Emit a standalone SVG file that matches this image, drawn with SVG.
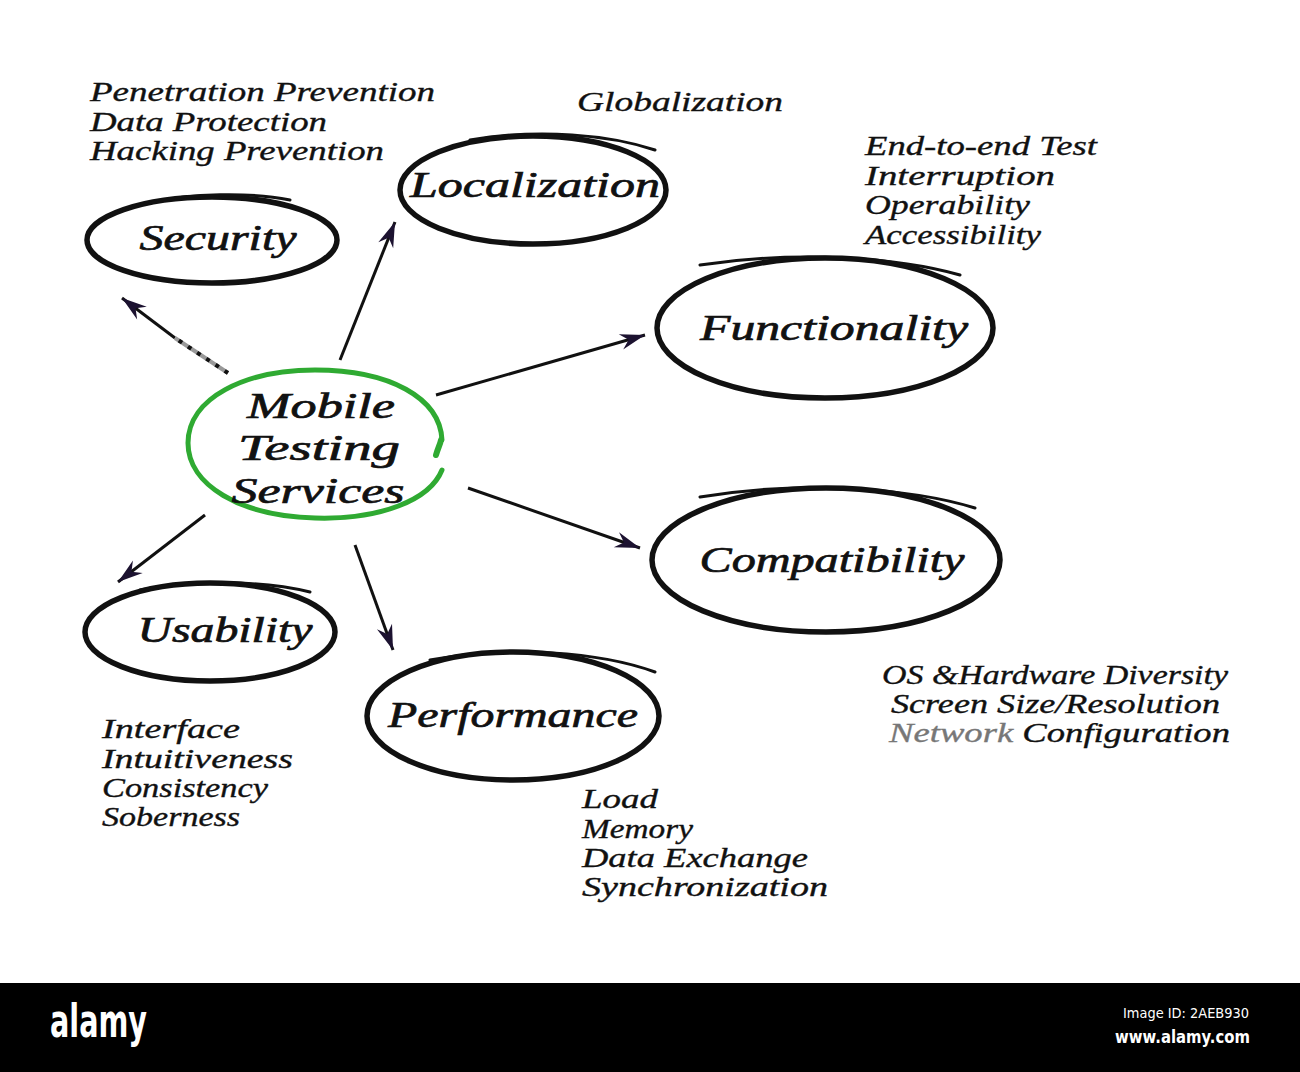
<svg xmlns="http://www.w3.org/2000/svg" width="1300" height="1072" viewBox="0 0 1300 1072">
<style>
.ring{fill:none;stroke:#111;stroke-width:5.5;stroke-linecap:round}
.tail{fill:none;stroke:#111;stroke-width:3;stroke-linecap:round}
.node{font-family:"Liberation Serif","DejaVu Serif",serif;font-style:italic;font-size:36px;fill:#111;stroke:#111;stroke-width:0.7}
.note{font-family:"Liberation Serif","DejaVu Serif",serif;font-style:italic;font-size:27px;fill:#111;stroke:#111;stroke-width:0.35}
.conn{fill:none;stroke:#111;stroke-width:3;marker-end:url(#ah)}
.wm{font-family:"DejaVu Sans","Liberation Sans",sans-serif;fill:#fff}
</style>
<defs>
<marker id="ah" markerUnits="userSpaceOnUse" markerWidth="30" markerHeight="20" viewBox="-26 -10 28 20" refX="0" refY="0" orient="auto">
<path d="M0,0 L-25,-8 L-17,0 L-25,8 Z" fill="#1c1230"/>
</marker>
</defs>
<rect width="1300" height="1072" fill="#fff"/>

<g id="connectors">
<path class="conn" d="M175,338 L122,298"/>
<line x1="228" y1="373" x2="175" y2="338" stroke="#999" stroke-width="4"/>
<line x1="228" y1="373" x2="175" y2="338" stroke="#111" stroke-width="4" stroke-dasharray="4 7"/>
<path class="conn" d="M340,360 L395,222"/>
<path class="conn" d="M436,395 L645,335"/>
<path class="conn" d="M468,488 L640,548"/>
<path class="conn" d="M355,545 L393,650"/>
<path class="conn" d="M205,515 L118,582"/>
</g>

<g id="node-center">
<path d="M442,470 C430,500 380,520 315,518 C240,516 188,485 188,443 C188,398 245,370 315,370 C390,370 440,398 442,440" fill="none" stroke="#2faa32" stroke-width="5" stroke-linecap="round"/>
<path d="M436,455 C438,448 440,445 441,440" fill="none" stroke="#2faa32" stroke-width="6" stroke-linecap="round"/>
<text class="node" x="321" y="418" text-anchor="middle" textLength="148" lengthAdjust="spacingAndGlyphs">Mobile</text>
<text class="node" x="319" y="460" text-anchor="middle" textLength="162" lengthAdjust="spacingAndGlyphs">Testing</text>
<text class="node" x="318" y="503" text-anchor="middle" textLength="173" lengthAdjust="spacingAndGlyphs">Services</text>
</g>

<g id="node-security">
<ellipse class="ring" cx="212" cy="240" rx="125" ry="43"/>
<path class="tail" d="M150,203 C190,193 250,192 290,200"/>
<text class="node" x="218" y="250" text-anchor="middle" textLength="157" lengthAdjust="spacingAndGlyphs">Security</text>
</g>

<g id="node-localization">
<ellipse class="ring" cx="533" cy="190" rx="133" ry="54"/>
<path class="tail" d="M470,140 C540,128 610,135 655,150"/>
<text class="node" x="535" y="197" text-anchor="middle" textLength="250" lengthAdjust="spacingAndGlyphs">Localization</text>
</g>

<g id="node-functionality">
<ellipse class="ring" cx="825" cy="328" rx="168" ry="70"/>
<path class="tail" d="M700,265 C800,250 900,258 960,275"/>
<text class="node" x="834" y="340" text-anchor="middle" textLength="268" lengthAdjust="spacingAndGlyphs">Functionality</text>
</g>

<g id="node-compatibility">
<ellipse class="ring" cx="826" cy="560" rx="174" ry="72"/>
<path class="tail" d="M700,497 C800,480 910,488 975,508"/>
<text class="node" x="832" y="572" text-anchor="middle" textLength="265" lengthAdjust="spacingAndGlyphs">Compatibility</text>
</g>

<g id="node-usability">
<ellipse class="ring" cx="210" cy="632" rx="125" ry="49"/>
<path class="tail" d="M140,590 C190,580 260,580 310,592"/>
<text class="node" x="225" y="642" text-anchor="middle" textLength="175" lengthAdjust="spacingAndGlyphs">Usability</text>
</g>

<g id="node-performance">
<ellipse class="ring" cx="513" cy="716" rx="146" ry="64"/>
<path class="tail" d="M430,660 C510,645 600,652 655,672"/>
<text class="node" x="513" y="727" text-anchor="middle" textLength="250" lengthAdjust="spacingAndGlyphs">Performance</text>
</g>

<g id="notes-security">
<text class="note" x="90" y="101" textLength="345" lengthAdjust="spacingAndGlyphs">Penetration Prevention</text>
<text class="note" x="90" y="131" textLength="237" lengthAdjust="spacingAndGlyphs">Data Protection</text>
<text class="note" x="90" y="160" textLength="294" lengthAdjust="spacingAndGlyphs">Hacking Prevention</text>
</g>
<g id="notes-localization">
<text class="note" x="577" y="111" textLength="206" lengthAdjust="spacingAndGlyphs">Globalization</text>
</g>
<g id="notes-functionality">
<text class="note" x="865" y="155" textLength="232" lengthAdjust="spacingAndGlyphs">End-to-end Test</text>
<text class="note" x="865" y="185" textLength="190" lengthAdjust="spacingAndGlyphs">Interruption</text>
<text class="note" x="865" y="214" textLength="165" lengthAdjust="spacingAndGlyphs">Operability</text>
<text class="note" x="865" y="244" textLength="176" lengthAdjust="spacingAndGlyphs">Accessibility</text>
</g>
<g id="notes-compatibility">
<text class="note" x="882" y="684" textLength="346" lengthAdjust="spacingAndGlyphs">OS &amp;Hardware Diversity</text>
<text class="note" x="891" y="713" textLength="329" lengthAdjust="spacingAndGlyphs">Screen Size/Resolution</text>
<text class="note" x="889" y="742" textLength="341" lengthAdjust="spacingAndGlyphs"><tspan fill="#777" stroke="#777">Network</tspan> Configuration</text>
</g>
<g id="notes-usability">
<text class="note" x="102" y="738" textLength="138" lengthAdjust="spacingAndGlyphs">Interface</text>
<text class="note" x="102" y="768" textLength="191" lengthAdjust="spacingAndGlyphs">Intuitiveness</text>
<text class="note" x="102" y="797" textLength="166" lengthAdjust="spacingAndGlyphs">Consistency</text>
<text class="note" x="102" y="826" textLength="138" lengthAdjust="spacingAndGlyphs">Soberness</text>
</g>
<g id="notes-performance">
<text class="note" x="582" y="808" textLength="76" lengthAdjust="spacingAndGlyphs">Load</text>
<text class="note" x="582" y="838" textLength="111" lengthAdjust="spacingAndGlyphs">Memory</text>
<text class="note" x="582" y="867" textLength="226" lengthAdjust="spacingAndGlyphs">Data Exchange</text>
<text class="note" x="582" y="896" textLength="246" lengthAdjust="spacingAndGlyphs">Synchronization</text>
</g>

<g id="watermark">
<rect x="0" y="983" width="1300" height="89" fill="#000"/>
<text class="wm" x="50" y="1037" font-size="46" font-weight="bold" textLength="97" lengthAdjust="spacingAndGlyphs">alamy</text>
<text class="wm" x="1123" y="1018" font-size="14" textLength="126" lengthAdjust="spacingAndGlyphs">Image ID: 2AEB930</text>
<text class="wm" x="1115" y="1043" font-size="17" font-weight="bold" textLength="135" lengthAdjust="spacingAndGlyphs">www.alamy.com</text>
</g>
</svg>
